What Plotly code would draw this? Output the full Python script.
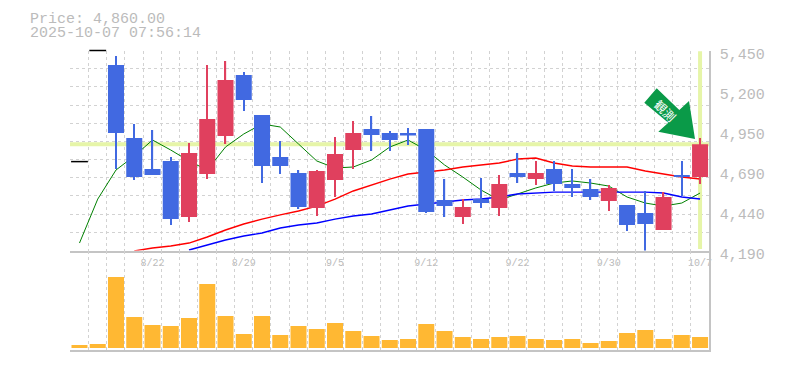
import plotly.graph_objects as go

# ---- data ----
labels_idx = [4, 9, 14, 19, 24, 29, 34]
labels_txt = ["8/22", "8/29", "9/5", "9/12", "9/22", "9/30", "10/7"]
price_ticks = [5450, 5198, 4946, 4694, 4442, 4190]
price_tick_text = ["5,450", "5,200", "4,950", "4,690", "4,440", "4,190"]

opens = [4750, 5450, 5359, 4899, 4703, 4754, 4401, 4672, 4911, 5296, 5044, 4779, 4678, 4458, 4634,
         4823, 4955, 4930, 4930, 4955, 4508, 4401, 4514, 4458, 4678, 4640, 4703, 4609, 4577, 4502,
         4477, 4426, 4319, 4666, 4653]
highs = [4750, 5450, 5415, 4987, 4949, 4779, 4867, 5359, 5384, 5315, 5044, 4880, 4697, 4697, 4905,
         5006, 5037, 4943, 4962, 4955, 4640, 4514, 4647, 4666, 4804, 4754, 4754, 4703, 4640, 4603,
         4477, 4565, 4558, 4754, 4899]
lows = [4750, 5450, 4703, 4634, 4666, 4351, 4370, 4640, 4861, 5069, 4615, 4672, 4451, 4407, 4527,
        4703, 4817, 4817, 4855, 4426, 4401, 4357, 4458, 4407, 4615, 4603, 4565, 4527, 4508, 4439,
        4313, 4187, 4319, 4533, 4609]
closes = [4750, 5450, 4930, 4653, 4666, 4388, 4804, 5018, 5264, 5138, 4722, 4722, 4464, 4691, 4798,
          4930, 4918, 4886, 4918, 4433, 4470, 4464, 4489, 4609, 4653, 4678, 4609, 4584, 4527, 4584,
          4351, 4357, 4527, 4653, 4860]
n = None
ma_short = [4237, 4514, 4697, 4785, 4886, 4823, 4754, 4697, 4842, 4924, 4987, 4968, 4861, 4754, 4710,
            4716, 4760, 4842, 4886, 4823, 4729, 4653, 4571, 4508, 4546, 4584, 4615, 4628, 4615, 4596,
            4527, 4489, 4470, 4489, 4552]
ma_mid = [n, n, n, 4187, 4206, 4218, 4237, 4275, 4319, 4357, 4388, 4414, 4439, 4470, 4514,
          4565, 4603, 4640, 4672, 4684, 4697, 4716, 4729, 4741, 4766, 4773, 4741, 4722, 4716, 4716,
          4716, 4691, 4672, 4653, 4640]
ma_long = [n, n, n, n, n, n, 4193, 4225, 4256, 4281, 4300, 4332, 4351, 4363, 4388,
           4407, 4420, 4445, 4470, 4483, 4496, 4508, 4514, 4527, 4546, 4552, 4558, 4558, 4558, 4558,
           4558, 4558, 4552, 4527, 4514]
volume = [3, 4, 71, 31, 23, 22, 30, 64, 32, 14, 32, 13, 22, 19, 25, 17, 12, 8,
          9, 24, 17, 11, 9, 11, 12, 9, 8, 9, 5, 7, 15, 18, 9, 13, 11]
last_price = 4860
price_min, price_max = 4190, 5450

x = list(range(len(opens)))
x_min, x_max = -0.52, 34.49

W, H = 785, 370
L, R, T, B, VB = 70, 709, 50.5, 250.5, 350.3
GRID = "#d2d2d2"
TXT = "#bbbbbb"
YEL = "#e6f5a8"
RED = "#e0405e"
BLUE = "#4169e1"

candle_colors = [RED if c >= o else BLUE for o, c in zip(opens, closes)]

fig = go.Figure()
# reference lines and moving averages (main subplot, below the candle overlay)
fig.add_trace(go.Scatter(x=[x_min, x_max], y=[last_price, last_price], mode="lines",
                         line=dict(color=YEL, width=4), hoverinfo="skip"))
fig.add_trace(go.Scatter(x=[x[-1], x[-1]], y=[price_min + 10, price_max - 5], mode="lines",
                         line=dict(color=YEL, width=4), hoverinfo="skip"))
fig.add_trace(go.Scatter(x=x, y=ma_short, mode="lines", line=dict(color="#008000", width=1)))
fig.add_trace(go.Scatter(x=x, y=ma_mid, mode="lines", line=dict(color="#ff0000", width=1.4)))
fig.add_trace(go.Scatter(x=x, y=ma_long, mode="lines", line=dict(color="#0000ff", width=1.4)))

# candles (wick + body floating bars) on an overlay subplot so they sit on top of the lines
fig.add_trace(go.Bar(x=x[2:], y=[h - l for h, l in zip(highs[2:], lows[2:])], base=lows[2:],
                     xaxis="x3", yaxis="y3", width=0.07,
                     marker=dict(color=candle_colors[2:], line=dict(width=0))))
fig.add_trace(go.Bar(x=x[2:], y=[abs(c - o) for o, c in zip(opens[2:], closes[2:])],
                     base=[min(o, c) for o, c in zip(opens[2:], closes[2:])],
                     xaxis="x3", yaxis="y3", width=0.877,
                     marker=dict(color=candle_colors[2:], line=dict(width=0))))
fig.add_trace(go.Scatter(
    x=x[:2], y=closes[:2], mode="markers", xaxis="x3", yaxis="y3", cliponaxis=False,
    marker=dict(symbol="line-ew", size=12, color="#000000", line=dict(color="#000000", width=1.5))))

fig.add_trace(go.Bar(x=x, y=volume, xaxis="x2", yaxis="y2", width=0.877,
                     marker=dict(color="#ffb833", line=dict(width=0))))

minor_x = dict(tickmode="array", tickvals=[i + x_min for i in range(len(x) + 1)], showgrid=True,
               gridcolor=GRID, griddash="3px,3px", gridwidth=1, ticklen=0)
minor_y = dict(tickmode="array",
               tickvals=[price_min + i * (price_max - price_min) / 11 for i in range(11)] + [price_max - 0.5],
               showgrid=True, gridcolor=GRID, griddash="3px,3px", gridwidth=1, ticklen=0)

fig.update_layout(
    width=W, height=H, autosize=False,
    margin=dict(l=0, r=0, t=0, b=0, pad=0, autoexpand=False),
    paper_bgcolor="#ffffff", plot_bgcolor="#ffffff",
    showlegend=False, barmode="overlay", hovermode=False,
    font=dict(family="Liberation Mono, monospace", color=TXT),
    xaxis=dict(domain=[L / W, R / W], range=[x_min, x_max], anchor="y", showgrid=False, zeroline=False,
               tickmode="array", tickvals=labels_idx, ticktext=labels_txt, ticklen=0, ticklabelstandoff=2,
               tickfont=dict(size=10, color=TXT), minor=minor_x,
               showline=True, linecolor="#c4c4c4", linewidth=1.5),
    yaxis=dict(domain=[(H - T - 200) / H, (H - T) / H], range=[price_min, price_max], anchor="x", side="right",
               showgrid=False, zeroline=False, tickmode="array", tickvals=price_ticks, ticktext=price_tick_text,
               ticklen=0, tickfont=dict(size=15, color=TXT), ticklabelstandoff=6, ticklabelshift=3,
               minor=minor_y, showline=True, linecolor="#c4c4c4", linewidth=1.5),
    xaxis2=dict(domain=[L / W, R / W], range=[x_min, x_max], anchor="y2", showgrid=False, zeroline=False,
                showticklabels=False, ticks="", minor=minor_x, showline=True, linecolor="#c4c4c4", linewidth=1.5),
    yaxis2=dict(domain=[(H - VB) / H, (H - B) / H], range=[-2.3, 97.5], anchor="x2", side="right", showgrid=False,
                zeroline=False, showticklabels=False, ticks="", showline=True, linecolor="#c4c4c4", linewidth=1.5),
    xaxis3=dict(overlaying="x", domain=[L / W, R / W], range=[x_min, x_max], visible=False, anchor="y3"),
    yaxis3=dict(overlaying="y", domain=[(H - T - 200) / H, (H - T) / H], range=[price_min, price_max],
                visible=False, anchor="x3"),
    shapes=[dict(type="path", xref="paper", yref="paper", layer="above", line=dict(width=0), fillcolor="#0a9a48",
                 path="M {} {} L {} {} L {} {} L {} {} L {} {} L {} {} L {} {} Z".format(
                     *[v for px, py in [(644.3, 102.7), (656.7, 88.3), (679.3, 110), (689, 101), (695, 139),
                                        (658.3, 131.7), (668.3, 122.7)]
                       for v in (px / W, 1 - py / H)]))],
    annotations=[
        dict(text="Price: 4,860.00", x=27.5 / W, y=1 - 19 / H, xref="paper", yref="paper", xanchor="left",
             yanchor="middle", showarrow=False, font=dict(size=15, color=TXT)),
        dict(text="2025-10-07 07:56:14", x=27.5 / W, y=1 - 34 / H, xref="paper", yref="paper", xanchor="left",
             yanchor="middle", showarrow=False, font=dict(size=15, color=TXT)),
        dict(text="観測", x=666 / W, y=1 - 110 / H, xref="paper", yref="paper", xanchor="center", yanchor="middle",
             showarrow=False, textangle=45, font=dict(size=12, color="#ffffff", family="Noto Sans CJK JP")),
    ],
)

fig.write_html("out.html", config=dict(displayModeBar=False),
               post_script="document.body.style.margin='0';document.body.style.overflow='hidden';")
